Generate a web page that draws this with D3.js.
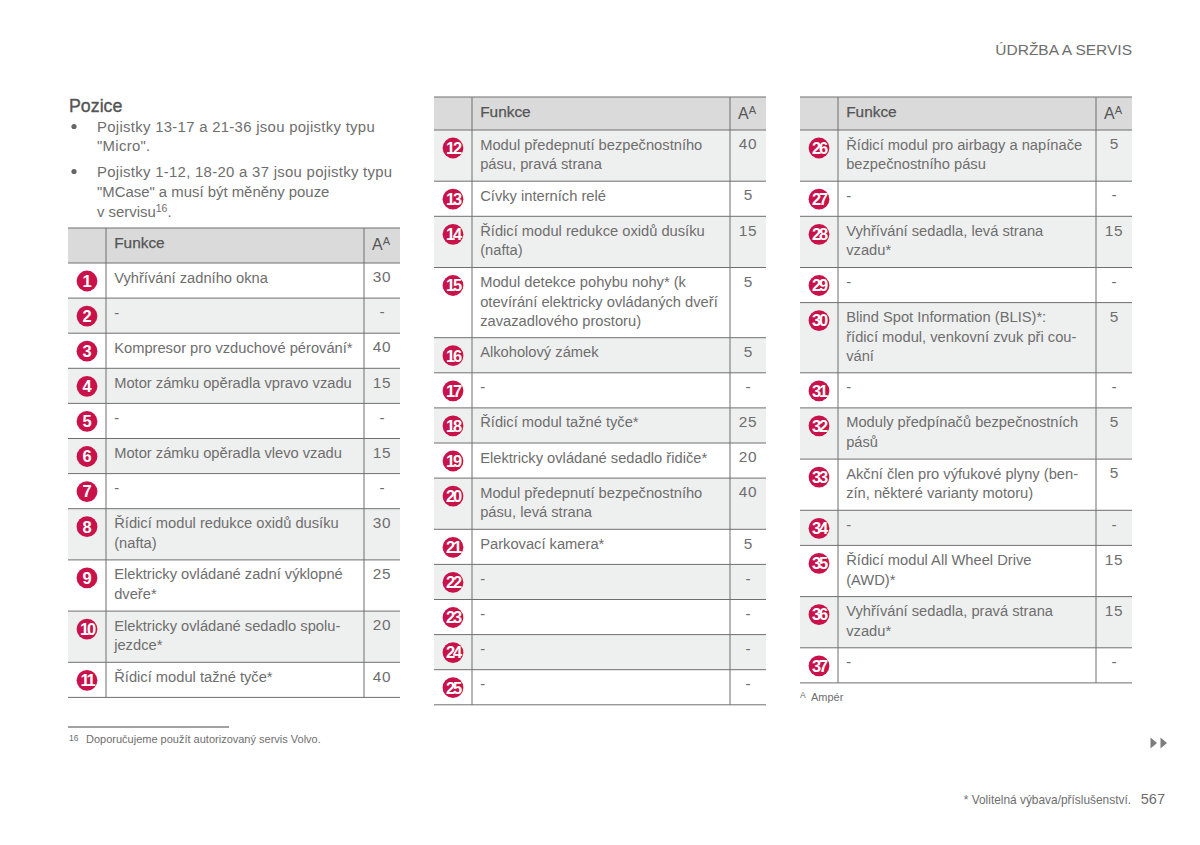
<!DOCTYPE html>
<html><head><meta charset="utf-8">
<script src="https://d3js.org/d3.v7.min.js"></script>
<style>
html,body{margin:0;padding:0;background:#fff}
svg{display:block}
text{font-family:"Liberation Sans",Arial,sans-serif;fill:#6e6e6e}
</style></head><body><svg id="c" width="1200" height="845"></svg>
<script>
const headerTitle = "ÚDRŽBA A SERVIS";
const sectionTitle = "Pozice";
const bulletLines = [
  ["Pojistky 13-17 a 21-36 jsou pojistky typu","\"Micro\"."],
  ["Pojistky 1-12, 18-20 a 37 jsou pojistky typu","\"MCase\" a musí být měněny pouze","v servisu"]
];
const columnHead = "Funkce";
const table1Ids = [1,2,3,4,5,6,7,8,9,10,11];
const table1Text = [
  ["Vyhřívání zadního okna"],["-"],["Kompresor pro vzduchové pérování*"],["Motor zámku opěradla vpravo vzadu"],["-"],
  ["Motor zámku opěradla vlevo vzadu"],["-"],["Řídicí modul redukce oxidů dusíku","(nafta)"],
  ["Elektricky ovládané zadní výklopné","dveře*"],["Elektricky ovládané sedadlo spolu-","jezdce*"],["Řídicí modul tažné tyče*"]];
const table1Amps = ["30","-","40","15","-","15","-","30","25","20","40"];
const table2Ids = [12,13,14,15,16,17,18,19,20,21,22,23,24,25];
const table2Text = [
  ["Modul předepnutí bezpečnostního","pásu, pravá strana"],["Cívky interních relé"],["Řídicí modul redukce oxidů dusíku","(nafta)"],
  ["Modul detekce pohybu nohy* (k","otevírání elektricky ovládaných dveří","zavazadlového prostoru)"],["Alkoholový zámek"],["-"],
  ["Řídicí modul tažné tyče*"],["Elektricky ovládané sedadlo řidiče*"],["Modul předepnutí bezpečnostního","pásu, levá strana"],
  ["Parkovací kamera*"],["-"],["-"],["-"],["-"]];
const table2Amps = ["40","5","15","5","5","-","25","20","40","5","-","-","-","-"];
const table3Ids = [26,27,28,29,30,31,32,33,34,35,36,37];
const table3Text = [
  ["Řídicí modul pro airbagy a napínače","bezpečnostního pásu"],["-"],["Vyhřívání sedadla, levá strana","vzadu*"],["-"],
  ["Blind Spot Information (BLIS)*:","řídicí modul, venkovní zvuk při cou-","vání"],["-"],["Moduly předpínačů bezpečnostních","pásů"],
  ["Akční člen pro výfukové plyny (ben-","zín, některé varianty motoru)"],["-"],["Řídicí modul All Wheel Drive","(AWD)*"],["Vyhřívání sedadla, pravá strana","vzadu*"],["-"]];
const table3Amps = ["5","-","15","-","5","-","5","5","-","15","15","-"];
const footnote = "Doporučujeme použít autorizovaný servis Volvo.";
const ampNote = "Ampér";
const optionalNote = "* Volitelná výbava/příslušenství.";
const pageNumber = "567";

const svg = d3.select("#c");
const RED="#c9124a", GRAY="#eef0ef", HEAD="#d9dad9", LINE="#6f6f6f";
const FS=14.9, TFS=14.7, LH=19.6;
const rowH = {1:35.1,2:51.2,3:70.2};

function table(left, top, headH, ids, rows, amps){
  const x = d3.scaleLinear().domain([0,1]).range([left,left+332]);
  const xText=left+46.2, xV1=left+38, xV2=left+296, xAmp=left+314;
  const g = svg.append("g");
  let y = top+headH;
  const ys = rows.map(r=>{const s=y; y+=rowH[r.length]; return s;});
  const bottom = y;
  g.append("rect").attr("x",x(0)).attr("y",top).attr("width",x(1)-x(0)).attr("height",headH).attr("fill",HEAD);
  g.selectAll("rect.r").data(rows).join("rect").attr("class","r")
    .attr("x",x(0)).attr("width",x(1)-x(0)).attr("y",(d,i)=>ys[i]).attr("height",d=>rowH[d.length])
    .attr("fill",(d,i)=>(ids[i]%2===0)?GRAY:"#fff");
  [top,top+headH,...ys.slice(1),bottom].forEach(v=>g.append("line").attr("x1",x(0)).attr("x2",x(1)).attr("y1",v).attr("y2",v).attr("stroke",LINE).attr("stroke-width",1));
  [xV1,xV2].forEach(v=>g.append("line").attr("x1",v).attr("x2",v).attr("y1",top).attr("y2",bottom).attr("stroke",LINE).attr("stroke-width",1));
  g.append("text").attr("x",xText).attr("y",top+19.8).attr("font-size",15.4).attr("style","font-weight:400;fill:#555;stroke:#555;stroke-width:.25").text(columnHead);
  const aa=g.append("text").attr("x",xAmp-1).attr("y",top+22).attr("text-anchor","middle").attr("font-size",16).attr("style","fill:#555");
  aa.append("tspan").text("A"); aa.append("tspan").attr("dy",-5).attr("font-size",11).text("A");
  rows.forEach((lines,i)=>{
    const t=ys[i];
    lines.forEach((s,k)=>g.append("text").attr("x",xText).attr("y",t+19.5+k*LH).attr("font-size",TFS).text(s));
    g.append("text").attr("x",xAmp).attr("y",t+19.2).attr("font-size",15.4).attr("text-anchor","middle").attr("letter-spacing",amps[i].length>1?.6:0).text(amps[i]);
    const cx=left+19, cy=t+18;
    g.append("circle").attr("cx",cx).attr("cy",cy).attr("r",10.4).attr("fill",RED);
    g.append("text").attr("x",cx).attr("y",cy+5.8).attr("text-anchor","middle")
      .attr("font-size",16.5).attr("letter-spacing",ids[i]>9?-2.2:0).attr("style","font-weight:700;fill:#fff").text(ids[i]);
  });
}
table(68,228,35,table1Ids,table1Text,table1Amps);
table(434,97,33,table2Ids,table2Text,table2Amps);
table(800,97,33,table3Ids,table3Text,table3Amps);

svg.append("text").attr("x",1132).attr("y",55).attr("text-anchor","end").attr("font-size",15.5).text(headerTitle);
svg.append("text").attr("x",69).attr("y",111.7).attr("font-size",17.8).attr("style","font-weight:400;fill:#555;stroke:#555;stroke-width:.35").text(sectionTitle);
const by=[132,177];
bulletLines.forEach((ls,i)=>{
  svg.append("circle").attr("cx",74).attr("cy",by[i]-5.5).attr("r",2.6).attr("fill","#666");
  ls.forEach((s,k)=>{
    const t=svg.append("text").attr("x",97).attr("y",by[i]+k*(i?20:19)).attr("font-size",FS)
      .attr("letter-spacing",/\d|Micro/.test(s)?.3:0).text(s);
    if(s==="v servisu"){t.append("tspan").attr("dy",-5).attr("font-size",10.5).text("16");t.append("tspan").attr("dy",5).text(".");}
  });
});
svg.append("line").attr("x1",68).attr("x2",229).attr("y1",727).attr("y2",727).attr("stroke","#444");
svg.append("text").attr("x",69).attr("y",741).attr("font-size",8.5).text("16");
svg.append("text").attr("x",86).attr("y",743).attr("font-size",11).text(footnote);
svg.append("text").attr("x",800).attr("y",698).attr("font-size",8.5).text("A");
svg.append("text").attr("x",811).attr("y",701).attr("font-size",11).text(ampNote);
[1150.5,1160.5].forEach(x0=>svg.append("path").attr("d",d3.line()([[x0,737.5],[x0+6.5,743],[x0,748.5]])+"Z").attr("fill","#7d7d7d"));
svg.append("text").attr("x",1131).attr("y",804).attr("text-anchor","end").attr("font-size",11.9).text(optionalNote);
svg.append("text").attr("x",1165).attr("y",804).attr("text-anchor","end").attr("font-size",14.5).text(pageNumber);
</script></body></html>
